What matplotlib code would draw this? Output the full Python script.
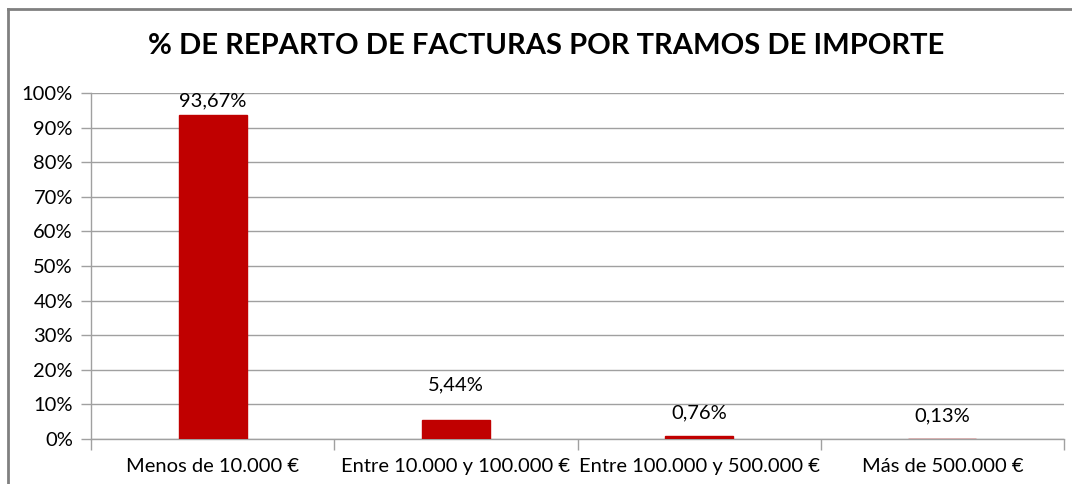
import matplotlib
matplotlib.use("Agg")
import matplotlib.pyplot as plt
from matplotlib.lines import Line2D
from matplotlib.ticker import FuncFormatter, MultipleLocator, FixedLocator

categories = ["Menos de 10.000 €", "Entre 10.000 y 100.000 €", "Entre 100.000 y 500.000 €", "Más de 500.000 €"]
values = [93.67, 5.44, 0.76, 0.13]
labels = ["93,67%", "5,44%", "0,76%", "0,13%"]
title = "% DE REPARTO DE FACTURAS POR TRAMOS DE IMPORTE"
# label vertical gap above each bar (style, in axis %)
label_gap = [4.0, 10.2, 6.7, 6.5]

plt.rcParams['font.family'] = ['Lato', 'DejaVu Sans']

fig = plt.figure(figsize=(10.72, 4.84), dpi=100)
ax = fig.add_axes([91/1072, 1-439/484, (1064-91)/1072, (439-93)/484])

x = list(range(len(categories)))
ax.bar(x, values, width=0.28, color="#C00000", edgecolor="#C00000", linewidth=1.0, zorder=3)
for xi, v, lab, g in zip(x, values, labels, label_gap):
    ax.text(xi, v + g, lab, ha="center", va="center", fontsize=14.5, color="#000000")

ax.set_xlim(-0.5, len(categories) - 0.5)
ax.set_ylim(0, 100)
ax.yaxis.set_major_locator(MultipleLocator(10))
ax.yaxis.set_major_formatter(FuncFormatter(lambda v, p: f"{int(round(v))}%"))
ax.grid(axis="y", color="#A0A0A0", linewidth=1, zorder=0)
ax.set_xticks(x)
ax.set_xticklabels(categories, fontsize=14.5)
ax.xaxis.set_minor_locator(FixedLocator([i - 0.5 for i in range(len(categories) + 1)]))
ax.tick_params(axis="x", which="major", length=0, pad=14)
ax.tick_params(axis="x", which="minor", length=8, color="#A0A0A0", width=1)
ax.tick_params(axis="y", length=7, color="#A0A0A0", width=1, labelsize=14.5, pad=6)
for s in ["top", "right"]:
    ax.spines[s].set_visible(False)
for s in ["left", "bottom"]:
    ax.spines[s].set_color("#A0A0A0")
    ax.spines[s].set_linewidth(1)

fig.text(0.5 + 0.0095, 1 - 46/484, title, ha="center", va="center", fontsize=21, fontweight="bold")

fig.add_artist(Line2D([8/1072, 8/1072], [0, 1 - 9/484], color="#808080", linewidth=2, transform=fig.transFigure))
fig.add_artist(Line2D([8/1072, 1], [1 - 9/484, 1 - 9/484], color="#808080", linewidth=2, transform=fig.transFigure))

fig.savefig("out.png", dpi=100)
